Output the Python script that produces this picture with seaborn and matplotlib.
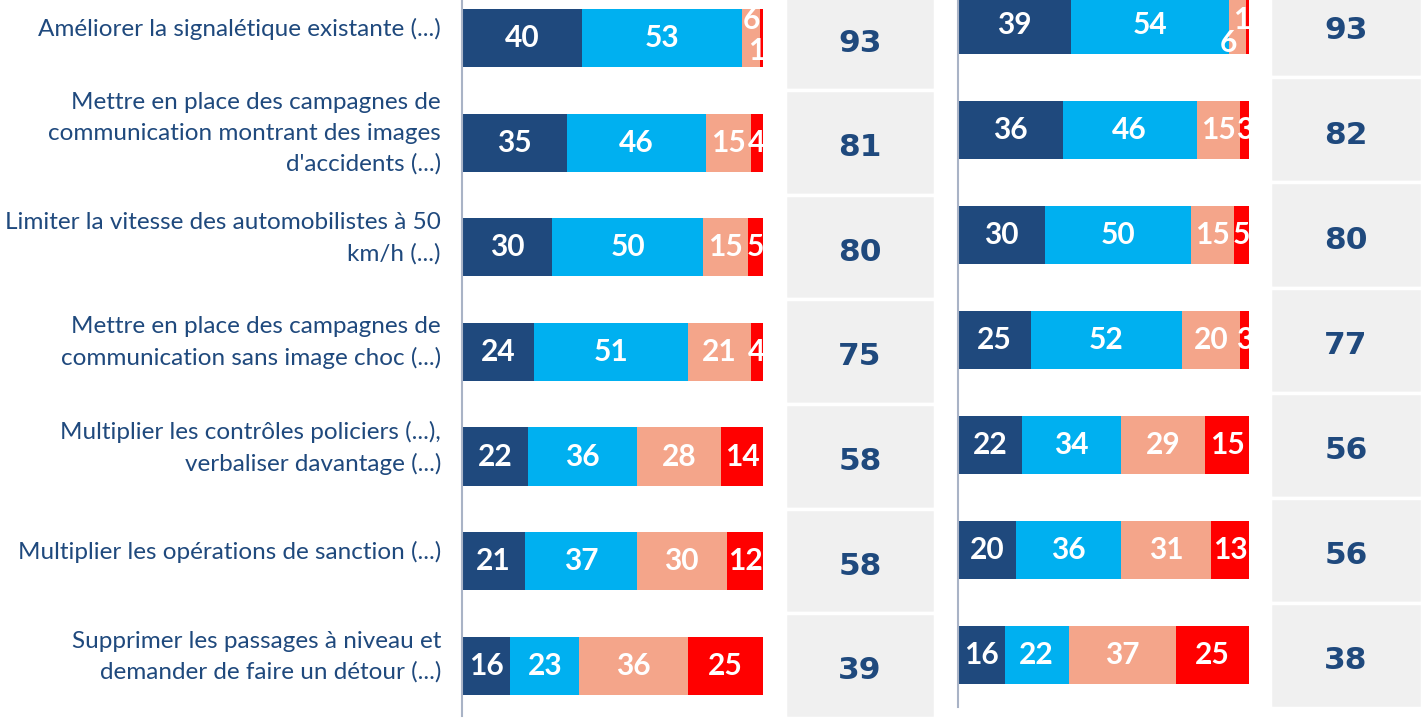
import matplotlib
matplotlib.use("Agg")
import matplotlib.pyplot as plt
import numpy as np
import pandas as pd
import seaborn as sns

# Données
items = [
    "Améliorer la signalétique existante (...)",
    "Mettre en place des campagnes de\ncommunication montrant des images\nd'accidents (...)",
    "Limiter la vitesse des automobilistes à 50\nkm/h (...)",
    "Mettre en place des campagnes de\ncommunication sans image choc (...)",
    "Multiplier les contrôles policiers (...),\nverbaliser davantage (...)",
    "Multiplier les opérations de sanction (...)",
    "Supprimer les passages à niveau et\ndemander de faire un détour (...)",
]
left_tout_a_fait = [40, 35, 30, 24, 22, 21, 16]
left_plutot = [53, 46, 50, 51, 36, 37, 23]
left_plutot_pas = [6, 15, 15, 21, 28, 30, 36]
left_pas_du_tout = [1, 4, 5, 4, 14, 12, 25]
left_total = [93, 81, 80, 75, 58, 58, 39]

right_tout_a_fait = [39, 36, 30, 25, 22, 20, 16]
right_plutot = [54, 46, 50, 52, 34, 36, 22]
right_plutot_pas = [6, 15, 15, 20, 29, 31, 37]
right_pas_du_tout = [1, 3, 5, 3, 15, 13, 25]
right_total = [93, 82, 80, 77, 56, 56, 38]

colors = ["#1f497d", "#00b0f0", "#f4a58a", "#ff0000"]
txt_color = "#1f497d"

W, H = 1422, 728
fig = plt.figure(figsize=(W / 100, H / 100), dpi=100)


def frac(x0, y0, x1, y1):
    return [x0 / W, 1 - y1 / H, (x1 - x0) / W, (y1 - y0) / H]


def stacked(ax, segs, ylim, first_nudge):
    df = pd.DataFrame({"item": items})
    cums = np.cumsum(np.array(segs), axis=0)
    # on dessine du plus long au plus court pour empiler
    for k in range(3, -1, -1):
        df["v"] = cums[k]
        sns.barplot(data=df, x="v", y="item", orient="h", color=colors[k],
                    width=0.555, saturation=1, ax=ax, linewidth=0)
    for k in range(4):
        for i in range(len(items)):
            v = segs[k][i]
            xc = cums[k][i] - v / 2
            dy = 0
            if i == 0 and k in first_nudge:
                # petites valeurs décalées pour rester lisibles
                dx, dy = first_nudge[k]
                xc += dx
            ax.text(xc, i + dy, str(v), ha="center", va="center", color="white",
                    fontsize=21.5, fontweight="bold", family="Lato")
    ax.set_xlim(0, 100)
    ax.set_ylim(*ylim)
    ax.set_xlabel("")
    ax.set_ylabel("")
    ax.set_xticks([])
    ax.set_yticks([])
    for s in ["top", "right", "bottom"]:
        ax.spines[s].set_visible(False)
    ax.spines["left"].set_color("#a9b3c6")
    ax.spines["left"].set_linewidth(1.5)


def totals(ax, vals, ylim):
    df = pd.DataFrame({"item": items, "v": [1] * len(items)})
    sns.barplot(data=df, x="v", y="item", orient="h", color="#f0f0f0",
                width=1, saturation=1, ax=ax, edgecolor="white", linewidth=2.5)
    for i, v in enumerate(vals):
        ax.text(0.5, i + 0.05, str(v), ha="center", va="center", color=txt_color,
                fontsize=22.5, fontweight="bold", family="DejaVu Sans")
    ax.set_xlim(0, 1)
    ax.set_ylim(*ylim)
    ax.axis("off")


ax1 = fig.add_axes(frac(462, 0, 763, 716))
stacked(ax1, [left_tout_a_fait, left_plutot, left_plutot_pas, left_pas_du_tout],
        (6.48, -0.363), {2: (0, -0.17), 3: (-1.7, 0.12)})
# libellés des items à gauche
for i, lab in enumerate(items):
    ax1.annotate(lab, xy=(0, i), xycoords=("axes fraction", "data"),
                 xytext=(-21, 9), textcoords="offset pixels",
                 ha="right", va="center", fontsize=17.5, family="Lato",
                 color=txt_color, linespacing=1.55)

ax2 = fig.add_axes(frac(958, 0, 1249, 707))
stacked(ax2, [right_tout_a_fait, right_plutot, right_plutot_pas, right_pas_du_tout],
        (6.495, -0.238), {2: (-3, 0.17), 3: (-2, -0.05)})

g1 = fig.add_axes(frac(785, 0, 935, 728))
totals(g1, left_total, (6.597, -0.363))
g2 = fig.add_axes(frac(1270, 0, 1422, 728))
totals(g2, right_total, (6.695, -0.238))

fig.savefig("out.png", dpi=100)
